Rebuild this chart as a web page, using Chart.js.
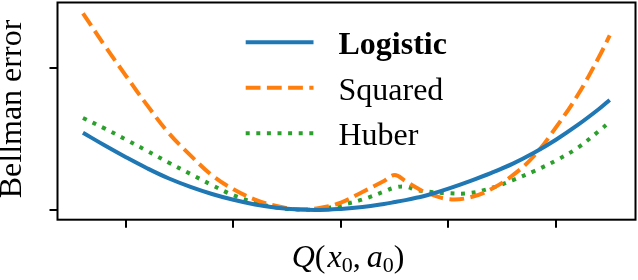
<!DOCTYPE html>
<html>
<head>
<meta charset="utf-8">
<script src="https://cdn.jsdelivr.net/npm/chart.js@4"></script>
<style>
  html, body { margin: 0; padding: 0; background: #fff; }
</style>
</head>
<body>
<canvas id="chart" width="638" height="280"></canvas>
<script>
// values (x = Q(x0,a0), arbitrary units)
const qValues = [-2.4, -2.2, -2.0, -1.8, -1.6, -1.4, -1.2, -1.0, -0.8, -0.6, -0.4, -0.2, 0, 0.2, 0.4, 0.5, 0.6, 0.7, 0.8, 1.0, 1.2, 1.4, 1.6, 1.8, 2.0, 2.2, 2.4, 2.5];
const logisticError = [0.544, 0.456, 0.372, 0.293, 0.222, 0.163, 0.113, 0.072, 0.039, 0.016, 0.003, 0.0, 0.008, 0.022, 0.043, 0.056, 0.07, 0.086, 0.104, 0.151, 0.204, 0.262, 0.327, 0.405, 0.495, 0.597, 0.711, 0.775];
const squaredError = [1.385, 1.16, 0.945, 0.735, 0.54, 0.385, 0.245, 0.146, 0.074, 0.028, 0.006, 0.014, 0.053, 0.127, 0.204, 0.246, 0.204, 0.158, 0.121, 0.077, 0.089, 0.148, 0.246, 0.384, 0.582, 0.806, 1.077, 1.229];
const huberError = [0.648, 0.575, 0.496, 0.415, 0.333, 0.254, 0.176, 0.104, 0.053, 0.018, 0.004, 0.006, 0.035, 0.074, 0.13, 0.158, 0.165, 0.141, 0.13, 0.118, 0.12, 0.155, 0.211, 0.275, 0.349, 0.437, 0.556, 0.62];
const seriesNames = ['Logistic', 'Squared', 'Huber'];
const xTicks = [-2, -1, 0, 1, 2];
const yTicks = [0, 1];

const serif = '"Liberation Serif", "DejaVu Serif", serif';

function points(ys) {
  return qValues.map((q, i) => ({ x: q, y: ys[i] }));
}

function line(label, ys, color, dash) {
  return {
    label: label,
    data: points(ys),
    borderColor: color,
    borderWidth: 4,
    borderDash: dash,
    borderCapStyle: 'butt',
    pointRadius: 0,
    fill: false,
    tension: 0.4
  };
}

// frame, legend and axis titles, drawn like the matplotlib original
const decorations = {
  id: 'decorations',
  afterDraw(chart) {
    const ctx = chart.ctx;
    const a = chart.chartArea;
    ctx.save();

    ctx.strokeStyle = '#000';
    ctx.lineWidth = 2;
    ctx.setLineDash([]);
    ctx.strokeRect(a.left, a.top, a.right - a.left, a.bottom - a.top);

    // legend
    chart.data.datasets.forEach((ds, i) => {
      const y = 42.3 + i * 45.5;
      ctx.beginPath();
      ctx.strokeStyle = ds.borderColor;
      ctx.lineWidth = ds.borderWidth;
      ctx.lineCap = 'butt';
      ctx.setLineDash(ds.borderDash || []);
      ctx.moveTo(245.7, y);
      ctx.lineTo(313.5, y);
      ctx.stroke();
      ctx.setLineDash([]);
      ctx.fillStyle = '#000';
      ctx.font = (i === 0 ? 'bold ' : '') + '32px ' + serif;
      ctx.textAlign = 'left';
      ctx.textBaseline = 'alphabetic';
      ctx.fillText(ds.label, 338.5, y + 12);
    });

    // y title
    ctx.save();
    ctx.translate(20.5, 109);
    ctx.rotate(-Math.PI / 2);
    ctx.font = '32px ' + serif;
    ctx.textAlign = 'center';
    ctx.fillText('Bellman error', 0, 0);
    ctx.restore();

    // x title: Q(x0, a0)
    const it = 'italic 32px ' + serif;
    const up = '32px ' + serif;
    const sub = '22px ' + serif;
    const parts = [
      { t: 'Q', f: it }, { t: '(', f: up, gap: 2 }, { t: 'x', f: it },
      { t: '0', f: sub, dy: 5 }, { t: ',', f: up, gap: 6 },
      { t: 'a', f: it }, { t: '0', f: sub, dy: 5 }, { t: ')', f: up }
    ];
    let x = 291.7;
    ctx.textAlign = 'left';
    parts.forEach(p => {
      ctx.font = p.f;
      ctx.fillText(p.t, x, 267 + (p.dy || 0));
      x += ctx.measureText(p.t).width + (p.gap || 0);
    });

    ctx.restore();
  }
};

new Chart(document.getElementById('chart'), {
  type: 'line',
  data: {
    datasets: [
      line(seriesNames[0], logisticError, '#1f77b4', []),
      line(seriesNames[1], squaredError, '#ff7f0e', [14.8, 6.4]),
      line(seriesNames[2], huberError, '#2ca02c', [4, 6.6])
    ]
  },
  options: {
    responsive: false,
    animation: false,
    layout: { padding: { top: 2.5, right: 2.5, left: 0, bottom: 0 } },
    plugins: { legend: { display: false }, tooltip: { enabled: false } },
    scales: {
      x: {
        type: 'linear',
        min: -2.637,
        max: 2.740,
        afterBuildTicks: s => { s.ticks = xTicks.map(v => ({ value: v })); },
        afterFit: s => { s.height = 60.3; },
        ticks: { display: false },
        border: { display: false },
        grid: { drawOnChartArea: false, drawTicks: true, tickLength: 8, lineWidth: 2, color: '#000' }
      },
      y: {
        type: 'linear',
        min: -0.068,
        max: 1.461,
        afterBuildTicks: s => { s.ticks = yTicks.map(v => ({ value: v })); },
        afterFit: s => { s.width = 57.5; },
        ticks: { display: false },
        border: { display: false },
        grid: { drawOnChartArea: false, drawTicks: true, tickLength: 8, lineWidth: 2, color: '#000' }
      }
    }
  },
  plugins: [decorations]
});
</script>
</body>
</html>
